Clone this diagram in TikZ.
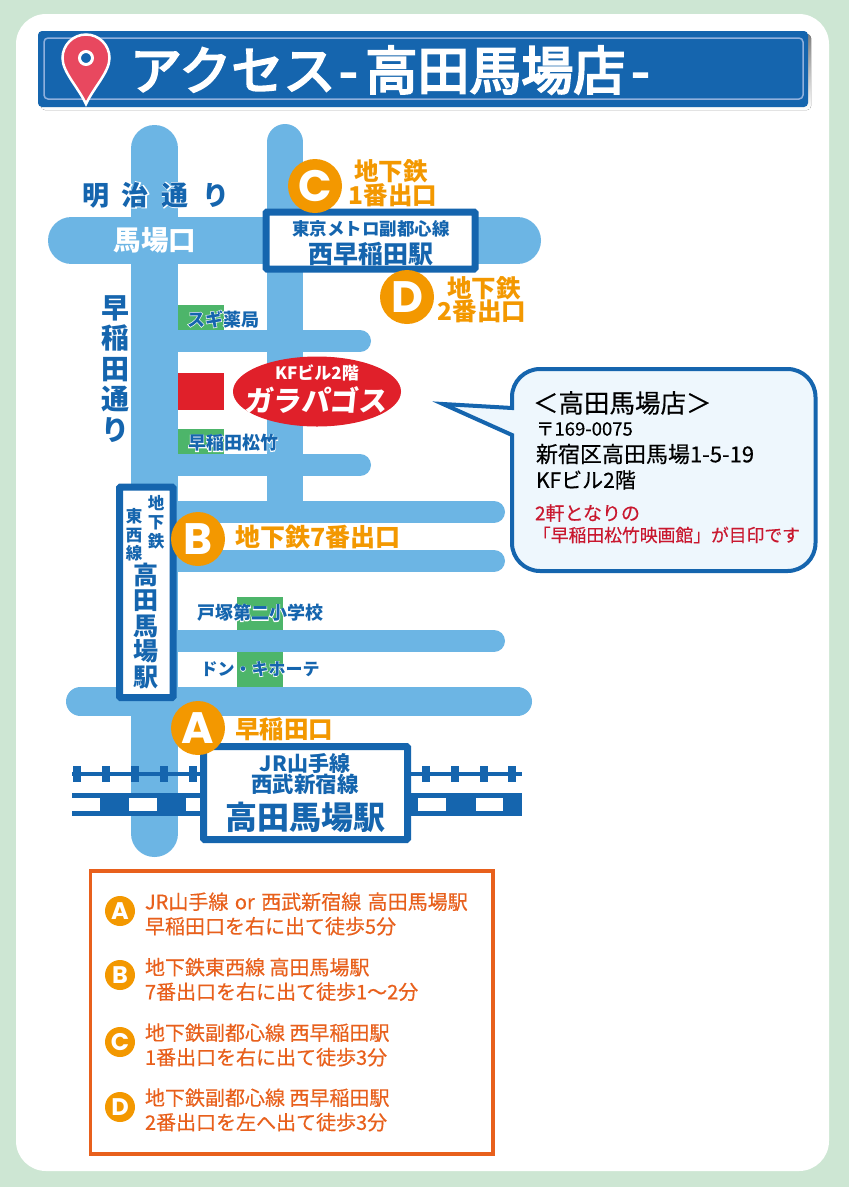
\documentclass[tikz,border=0pt]{standalone}
\usepackage{fontspec}
\setmainfont{Noto Sans CJK JP}
\newfontfamily\ltr{Poppins}
\definecolor{bgc}{HTML}{CDE6D3}
\definecolor{road}{HTML}{6CB5E4}
\definecolor{navy}{HTML}{1565AE}
\definecolor{lineb}{HTML}{8FB0DD}
\definecolor{shade}{HTML}{4F6B3F}
\definecolor{pin}{HTML}{E8485F}
\definecolor{grn}{HTML}{4DB56A}
\definecolor{redb}{HTML}{E0202A}
\definecolor{org}{HTML}{F39800}
\definecolor{cream}{HTML}{EEF7FD}
\definecolor{redt}{HTML}{C9182F}
\definecolor{orgt}{HTML}{E8601C}
\newcommand{\hl}[1]{\leavevmode\rlap{\color{white}\addfontfeature{FakeBold=6}#1}#1}
\tikzset{
 x=1pt,y=-1pt,
 roadv/.style={line width=#1,draw=road,line cap=round},
 stn/.style={draw=navy,line width=7,fill=white,rounded corners=1},
 txt/.style={inner sep=0,outer sep=0,align=center},
 bluet/.style={txt,text=navy},
 orgl/.style={txt,text=org},
 circ/.style={circle,fill=org,inner sep=0,minimum size=#1,text=white},
 addr/.style={txt,anchor=west,align=left,text=black},
 route/.style={txt,anchor=west,align=left,text=orgt},
 tie/.style={fill=navy,draw=none},
}
\newcommand{\bfs}[2]{\fontsize{#1}{#2}\selectfont\bfseries}
\newcommand{\rfs}[2]{\fontsize{#1}{#2}\selectfont}
\newcommand{\mfs}[2]{\fontsize{#1}{#2}\selectfont\addfontfeature{FakeBold=0.4}}
\newcommand{\lfs}[1]{\ltr\fontsize{#1}{#1}\selectfont\bfseries}
\begin{document}
\begin{tikzpicture}
\useasboundingbox (0,0) rectangle (849,1187);
\fill[bgc] (0,0) rectangle (849,1187);
\fill[white,rounded corners=30] (16,14) rectangle (829,1171);
% title bar
\fill[shade,rounded corners=4] (41,34) rectangle (811,110);
\fill[navy,rounded corners=4] (38,31) rectangle (808,107);
\draw[lineb,line width=1.5,rounded corners=4] (44,38) rectangle (803,99);
\node[txt,anchor=west,text=white,font=\rfs{52}{56}\addfontfeature{FakeBold=4}] (title) at (130,70) {アクセス\hspace{4pt}-\hspace{8pt}高田馬場店\hspace{6pt}-};
% pin
\draw[white,fill=pin,line width=2.5] (86,104) .. controls (78,87) and (62.5,72) .. (62.5,58) arc[start angle=180,end angle=360,radius=23.5] .. controls (109.5,72) and (94,87) .. (86,104) -- cycle;
\draw[white,fill=navy,line width=3] (86,58) circle (6.5);
% roads
\draw[roadv=47] (154.5,148.5) -- (154.5,833.5);
\draw[line width=36,draw=road,line cap=round] (285,142) -- (285,505);
\draw[roadv=47] (71.5,240.5) -- (517.5,240.5);
\draw[roadv=22] (170,341) -- (360,341);
\draw[roadv=22] (170,465) -- (360,465);
\draw[roadv=22] (170,512) -- (494,512);
\draw[roadv=22] (170,561) -- (494,561);
\draw[roadv=22] (170,641) -- (494,641);
\draw[roadv=29] (80.5,701.5) -- (517.5,701.5);
% green and red blocks
\fill[grn] (178,305) rectangle (224,330);
\fill[grn] (178,429) rectangle (224,454);
\fill[grn] (237,597) rectangle (283,630);
\fill[grn] (237,652) rectangle (283,687);
\fill[redb] (178,373) rectangle (224,410);
% rails
\fill[navy] (72,772) rectangle (522,776);
\foreach \tx in {77,106,135,164,193,426,455,484,512} \fill[tie] (\tx-4,766) rectangle (\tx+4,782);
\fill[navy] (72,793) rectangle (522,816);
\foreach \ax/\bx in {72/100,129/157,186/200,418/446,476/503} \fill[white] (\ax,798) rectangle (\bx,811);
% stations
\node[stn,minimum width=209,minimum height=57,inner sep=0] (nw) at (370.5,240.5) {};
\node[bluet,font=\bfs{17.5}{18}] (nw1) at (371,229) {東京メトロ副都心線};
\node[bluet,font=\bfs{25}{26}] (nw2) at (371,254) {西早稲田駅};
\node[stn,minimum width=53.5,minimum height=210.5,inner sep=0] (tz) at (146.25,592.25) {};
\node[bluet,font=\bfs{16.5}{19}] (tz1) at (156,522) {地\\下\\鉄};
\node[bluet,font=\bfs{16.5}{18.5}] (tz2) at (134,535) {東\\西\\線};
\node[bluet,font=\bfs{25}{25.5}] (tz3) at (146,626) {高\\田\\馬\\場\\駅};
\node[stn,minimum width=204,minimum height=93,inner sep=0] (jr) at (305.5,793) {};
\node[bluet,font=\bfs{21}{22}] (jr1) at (305,763) {JR山手線};
\node[bluet,font=\bfs{21.5}{22}] (jr2) at (305,784) {西武新宿線};
\node[bluet,font=\bfs{32}{34}] (jr3) at (305,817) {高田馬場駅};
% map labels
\node[bluet,font=\bfs{27}{29}] (meiji) at (156,195) {\hl{明\hspace{13pt}治\hspace{13pt}通\hspace{14pt}り}};
\node[txt,text=white,font=\bfs{27.5}{29}] (baba) at (155,240) {馬場口};
\node[bluet,font=\bfs{28}{30.5}] (wsd) at (115,369) {\hl{早}\\\hl{稲}\\\hl{田}\\\hl{通}\\\hl{り}};
\node[bluet,font=\bfs{18}{20}] (sugi) at (223,319) {\hl{スギ薬局}};
\node[bluet,font=\bfs{18}{20}] (matsu) at (233,443) {\hl{早稲田松竹}};
\node[bluet,font=\bfs{18}{20}] (totsuka) at (260,613) {\hl{戸塚第二小学校}};
\node[bluet,font=\bfs{17}{20}] (don) at (260,669) {\hl{ドン・キホーテ}};
% circles
\node[circ=54,font=\lfs{44}] (cc) at (315,186) {C};
\node[circ=54,font=\lfs{44}] (cd) at (407,297) {D};
\node[circ=54,font=\lfs{44}] (cb) at (198,539) {B};
\node[circ=54,font=\lfs{44}] (ca) at (198,728) {A};
\node[orgl,font=\bfs{24.5}{26}] (c1) at (391,171) {地下鉄};
\node[orgl,font=\bfs{24.5}{26}] (c2) at (393,195) {1番出口};
\node[orgl,font=\bfs{24.5}{26}] (d1) at (484,288) {地下鉄};
\node[orgl,font=\bfs{24.5}{26}] (d2) at (482,311) {2番出口};
\node[orgl,font=\bfs{25}{27},anchor=west] (b1) at (235,537) {地下鉄7番出口};
\node[orgl,font=\bfs{24.5}{26},anchor=west] (a1) at (235,729) {早稲田口};
% shop ellipse
\fill[redb] (317,391.5) ellipse [x radius=84,y radius=35];
\node[txt,text=white,font=\bfs{17}{19}] (kf) at (317,373) {KFビル2階};
\node[txt,text=white,font=\bfs{28.5}{31},xslant=0.1,transform shape] (gala) at (317,400) {ガラパゴス};
% callout
\draw[navy,fill=cream,line width=4] (512,408) -- (443,404) -- (512,435) [rounded corners=28] -- (512,571) -- (815.5,571) -- (815.5,369) -- (512,369) [sharp corners] -- cycle;
\node[addr,font=\mfs{25.5}{27}] (s0) at (533,403) {＜高田馬場店＞};
\node[addr,font=\mfs{18.5}{19}] (s1) at (536,429) {〒169-0075};
\node[addr,font=\mfs{22}{22}] (s2) at (536,454) {新宿区高田馬場1-5-19};
\node[addr,font=\mfs{21}{22}] (s3) at (536,480) {KFビル2階};
\node[addr,text=redt,font=\mfs{19}{20}] (s4) at (535,513) {2軒となりの};
\node[addr,text=redt,font=\mfs{17.8}{20}] (s5) at (533,535) {「早稲田松竹映画館」が目印です};
% route box
\draw[orgt,line width=3.5] (90.5,871) rectangle (493,1154);
\node[circ=30,font=\lfs{24}] (ra) at (120,911) {A};
\node[circ=30,font=\lfs{24}] (rb) at (120,975) {B};
\node[circ=30,font=\lfs{24}] (rc) at (120,1042) {C};
\node[circ=30,font=\lfs{24}] (rd) at (120,1107) {D};
\node[route,font=\mfs{20}{24.5}] (ta) at (145,914) {JR山手線\hspace{2pt} or \hspace{2pt}西武新宿線\hspace{2pt} 高田馬場駅\\早稲田口を右に出て徒歩5分};
\node[route,font=\mfs{20}{24.5}] (tb) at (145,979.5) {地下鉄東西線 高田馬場駅\\7番出口を右に出て徒歩1～2分};
\node[route,font=\mfs{20}{24.5}] (tc) at (145,1045) {地下鉄副都心線 西早稲田駅\\1番出口を右に出て徒歩3分};
\node[route,font=\mfs{20}{24.5}] (td) at (145,1110) {地下鉄副都心線 西早稲田駅\\2番出口を左へ出て徒歩3分};
\end{tikzpicture}
\end{document}
